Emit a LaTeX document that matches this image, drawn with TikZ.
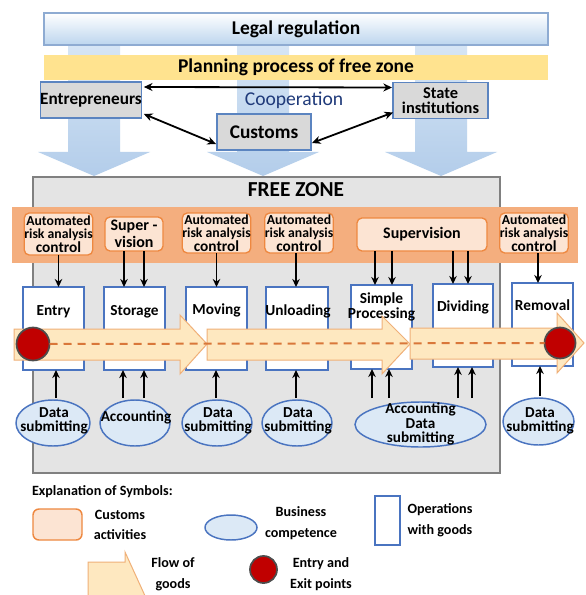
\documentclass[tikz,border=0pt]{standalone}
\usepackage{fontspec}
\setmainfont{Carlito}
\usetikzlibrary{shapes.geometric,arrows.meta,calc}
\newdimen\px \px=0.75pt
\definecolor{bgarrowA}{HTML}{D6E5F5}
\definecolor{bgarrowB}{HTML}{B3CDEA}
\definecolor{legalbord}{HTML}{8EABD2}
\definecolor{legalbot}{HTML}{BCD5EE}
\definecolor{plan}{HTML}{FFE38F}
\definecolor{graybox}{HTML}{D9D9D9}
\definecolor{boxbord}{HTML}{5B84C0}
\definecolor{coop}{HTML}{1F3A7A}
\definecolor{zonefill}{HTML}{E4E4E4}
\definecolor{zonebord}{HTML}{808080}
\definecolor{band}{HTML}{F4AE7E}
\definecolor{actfill}{HTML}{FCE4D3}
\definecolor{actbord}{HTML}{EE8840}
\definecolor{bluebord}{HTML}{4A74C0}
\definecolor{ellfill}{HTML}{DCE9F6}
\definecolor{flowfill}{HTML}{FEE8C0}
\definecolor{flowbord}{HTML}{F0B078}
\definecolor{dashcol}{HTML}{D9773A}
\definecolor{dotred}{HTML}{C00000}
\definecolor{dotbord}{HTML}{4D4D4D}
\begin{document}
\begin{tikzpicture}[x=0.75pt,y=-0.75pt,
  every node/.style={inner sep=0pt,outer sep=0pt,align=center},
  grayb/.style={draw=boxbord,line width=0.9pt,fill=graybox,minimum width=95*\px,minimum height=36*\px,font=\fontsize{12.9}{10}\selectfont\bfseries},
  act/.style={draw=actbord,line width=1pt,fill=actfill,rounded corners=3.75pt,font=\fontsize{10.3}{9.6}\selectfont\bfseries},
  ops/.style={draw=bluebord,line width=1pt,fill=white,minimum width=61*\px,minimum height=83*\px},
  opstxt/.style={font=\fontsize{11.5}{11}\selectfont\bfseries},
  bus/.style={ellipse,draw=bluebord,line width=1.1pt,fill=ellfill},
  bustxt/.style={font=\fontsize{11.4}{10.8}\selectfont\bfseries},
  dn/.style={-{Stealth[length=6pt,width=5.6pt]},line width=1.35pt},
  bothway/.style={{Stealth[length=6.5pt,width=6pt]}-{Stealth[length=6.5pt,width=6pt]},line width=1.35pt},
  flow/.style={fill=flowfill,draw=flowbord,line width=0.75pt},
  dot/.style={circle,fill=dotred,draw=dotbord,line width=1.3pt},
  legtxt/.style={font=\fontsize{10.6}{15.5}\selectfont\bfseries},
  bgarr/.style={top color=bgarrowA,bottom color=bgarrowB}
]
\useasboundingbox (0,0) rectangle (585,595);
\clip (0,0) rectangle (585,595);
\fill[white] (0,0) rectangle (585,595);
% background arrows
\shade[bgarr] (68,45) -- (120,45) -- (120,152) -- (150,152) -- (94,176) -- (38,152) -- (68,152) -- cycle;
\shade[bgarr] (237,45) -- (289,45) -- (289,152) -- (319,152) -- (263,176) -- (207,152) -- (237,152) -- cycle;
\shade[bgarr] (415,45) -- (467,45) -- (467,152) -- (497,152) -- (441,176) -- (385,152) -- (415,152) -- cycle;
% top boxes
\node[draw=legalbord,line width=0.9pt,top color=white,bottom color=legalbot,minimum width=504*\px,minimum height=32*\px,font=\fontsize{14.6}{14}\selectfont\bfseries] (legal) at (296,29) {Legal regulation};
\node[fill=plan,minimum width=504*\px,minimum height=25*\px,font=\fontsize{14.6}{14}\selectfont\bfseries] (plan) at (296,67.5) {Planning process of free zone};
\node[grayb] (ent) at (91,100) {Entrepreneurs};
\node[grayb,font=\fontsize{12.3}{11.2}\selectfont\bfseries] (state) at (440.5,100.5) {State\\institutions};
\node[grayb,minimum width=94*\px,font=\fontsize{14.5}{14}\selectfont\bfseries] (cus) at (264,132) {Customs};
\node[text=coop,font=\fontsize{14.7}{14}\selectfont] (coopt) at (294,100) {Cooperation};
\draw[bothway] ($(ent.north east)+(2,5)$) -- ($(state.north west)+(-1,5)$);
\draw[bothway] ($(ent.south east)+(2,-4)$) -- ($(cus.south west)+(-1,-6)$);
\draw[bothway] ($(cus.south east)+(1,-7)$) -- ($(state.south west)+(0,-6)$);
% free zone
\node[draw=zonebord,fill=zonefill,line width=1.1pt,minimum width=467*\px,minimum height=296*\px] (fz) at (266.5,325) {};
\node[font=\fontsize{16}{16}\selectfont\bfseries] (fzt) at (296,190) {FREE ZONE};
\node[fill=band,minimum width=566*\px,minimum height=56*\px] (band) at (295,235) {};
% customs activities
\node[act,minimum width=67*\px,minimum height=42*\px] (a1) at (58.5,234) {Automated\\risk analysis\\{\fontsize{11.5}{9.6}\selectfont control}};
\node[act,minimum width=58*\px,minimum height=34*\px,font=\fontsize{12}{12.5}\selectfont\bfseries] (a2) at (134,234) {Super -\\vision};
\node[act,minimum width=65*\px,minimum height=40*\px] (a3) at (216.5,233) {Automated\\risk analysis\\{\fontsize{11.5}{9.6}\selectfont control}};
\node[act,minimum width=66*\px,minimum height=40*\px] (a4) at (299,233) {Automated\\risk analysis\\{\fontsize{11.5}{9.6}\selectfont control}};
\node[act,minimum width=130*\px,minimum height=33*\px,font=\fontsize{12}{12}\selectfont\bfseries] (a5) at (422,234.5) {Supervision};
\node[act,minimum width=66*\px,minimum height=40*\px] (a6) at (534,233) {Automated\\risk analysis\\{\fontsize{11.5}{9.6}\selectfont control}};
% operations
\node[ops] (e1) at (53.5,328.5) {};
\node[ops] (e2) at (134.5,328.5) {};
\node[ops] (e3) at (216.5,328.5) {};
\node[ops,minimum width=62*\px] (e4) at (297,328.5) {};
\node[ops,minimum height=84*\px] (e5) at (381.5,327) {};
\node[ops,minimum width=60*\px] (e6) at (463,325.5) {};
\node[ops] (e7) at (542.5,324.5) {};
\node[opstxt] (e1t) at (53.5,312) {Entry};
\node[opstxt] (e2t) at (134.5,312) {Storage};
\node[opstxt] (e3t) at (216.5,310) {Moving};
\node[opstxt] (e4t) at (298,311) {Unloading};
\node[opstxt] (e5t) at (381.5,307) {Simple\\Processing};
\node[opstxt] (e6t) at (463,307) {Dividing};
\node[opstxt] (e7t) at (542.5,305) {Removal};
% down arrows
\draw[dn] (a1.south) -- (a1.south |- e1.north);
\draw[dn] ($(a2.south)+(-10,0)$) -- ($(a2.south |- e2.north)+(-10,0)$);
\draw[dn] ($(a2.south)+(10,0)$) -- ($(a2.south |- e2.north)+(10,0)$);
\draw[dn] (a3.south) -- (a3.south |- e3.north);
\draw[dn] ($(a4.south)+(-3,0)$) -- ($(a4.south |- e4.north)+(-3,0)$);
\draw[dn] ($(a5.south)+(-47,0)$) -- ($(a5.south |- e5.north)+(-47,0)$);
\draw[dn] ($(a5.south)+(-30,0)$) -- ($(a5.south |- e5.north)+(-30,0)$);
\draw[dn] ($(a5.south)+(31,0)$) -- ($(a5.south |- e6.north)+(31,0)$);
\draw[dn] ($(a5.south)+(46,0)$) -- ($(a5.south |- e6.north)+(46,0)$);
\draw[dn] ($(a6.south)+(4,0)$) -- ($(a6.south |- e7.north)+(4,0)$);
% business ellipses
\node[bus,minimum width=74*\px,minimum height=46*\px] (d1) at (53,423) {};
\node[bus,minimum width=70*\px,minimum height=46*\px] (d2) at (135,423) {};
\node[bus,minimum width=70*\px,minimum height=46*\px] (d3) at (217,423) {};
\node[bus,minimum width=70*\px,minimum height=46*\px] (d4) at (297,423) {};
\node[bus,minimum width=131*\px,minimum height=45*\px] (d5) at (420.5,424.5) {};
\node[bus,minimum width=71*\px,minimum height=47*\px] (d6) at (538.5,421.5) {};
\node[bustxt] (d1t) at (54,421) {Data\\submitting};
\node[bustxt] (d2t) at (136,417) {Accounting};
\node[bustxt] (d3t) at (218,421) {Data\\submitting};
\node[bustxt] (d4t) at (298,421) {Data\\submitting};
\node[bustxt] (d5t) at (420.5,424) {Accounting\\Data\\submitting};
\node[bustxt] (d6t) at (540,421) {Data\\submitting};
% up arrows
\draw[dn] ($(d1.north)+(3,-2)$) -- ($(d1.north |- e1.south)+(3,0)$);
\draw[dn] ($(d2.north)+(-12,-2)$) -- ($(d2.north |- e2.south)+(-12,0)$);
\draw[dn] ($(d2.north)+(9,-2)$) -- ($(d2.north |- e2.south)+(9,0)$);
\draw[dn] ($(d3.north)+(-1,-2)$) -- ($(d3.north |- e3.south)+(-1,0)$);
\draw[dn] ($(d4.north)+(-1,-2)$) -- ($(d4.north |- e4.south)+(-1,0)$);
\draw[dn] ($(d5.north)+(-48.5,-4)$) -- ($(d5.north |- e5.south)+(-48.5,0)$);
\draw[dn] ($(d5.north)+(-31.5,-4)$) -- ($(d5.north |- e5.south)+(-31.5,0)$);
\draw[dn] ($(d5.north)+(37.5,-4)$) -- ($(d5.north |- e6.south)+(37.5,0)$);
\draw[dn] ($(d5.north)+(51.5,-4)$) -- ($(d5.north |- e6.south)+(51.5,0)$);
\draw[dn] ($(d6.north)+(1.5,-2)$) -- ($(d6.north |- e7.south)+(1.5,0)$);
% flow of goods
\draw[flow] (14,329) -- (180,329) -- (180,315) -- (207,344) -- (180,374) -- (180,360) -- (14,360) -- cycle;
\draw[flow] (207,329) -- (382,329) -- (382,316) -- (410,344) -- (382,374) -- (382,360) -- (207,360) -- cycle;
\draw[flow] (410,328) -- (557,328) -- (557,313) -- (584,343) -- (557,373) -- (557,359) -- (410,359) -- cycle;
\node[dot,minimum size=33*\px] (p1) at (33,344) {};
\node[dot,minimum size=31*\px] (p2) at (560,343) {};
\draw[dashcol,line width=1.5pt,dash pattern=on 6pt off 4.5pt] (p1.east) -- (p2.west);
% legend
\node[anchor=west,font=\fontsize{10.6}{10}\selectfont\bfseries] (leg) at (32,492) {Explanation of Symbols:};
\node[draw=actbord,line width=1.1pt,fill=actfill,rounded corners=4.5pt,minimum width=49*\px,minimum height=31*\px] (l1) at (57.5,524.5) {};
\node[legtxt] (l1t) at (120,525) {Customs\\activities};
\node[bus,minimum width=52*\px,minimum height=25*\px] (l2) at (231,527.5) {};
\node[legtxt] (l2t) at (301,523) {Business\\competence};
\node[draw=bluebord,line width=1pt,fill=white,minimum width=25*\px,minimum height=49*\px] (l3) at (387.5,520.5) {};
\node[legtxt] (l3t) at (440,520) {Operations\\with goods};
\draw[flow] (88,562) -- (125,562) -- (125,552) -- (146,598) -- (125,644) -- (125,634) -- (88,634) -- cycle;
\node[legtxt] (l4t) at (173,574) {Flow of\\goods};
\node[dot,minimum size=27*\px] (l5) at (263.5,569.5) {};
\node[legtxt] (l5t) at (321,574) {Entry and\\Exit points};
\end{tikzpicture}
\end{document}
